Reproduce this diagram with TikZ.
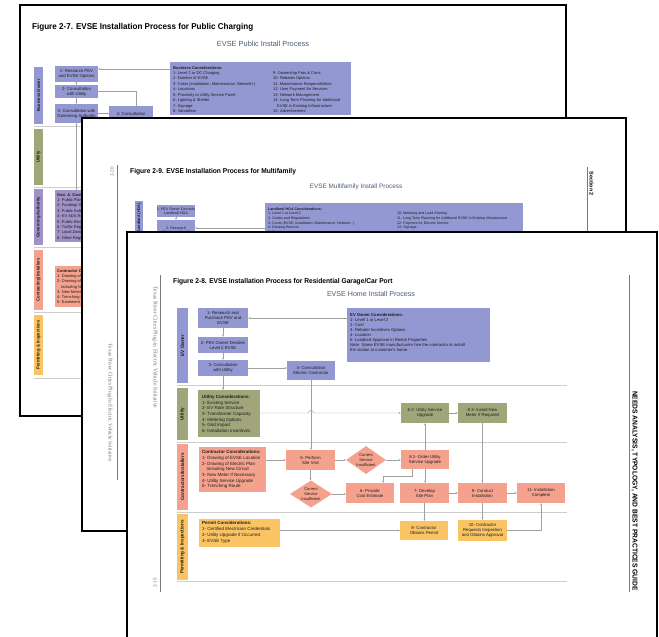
\documentclass[tikz,border=0pt]{standalone}
\usepackage{fontspec}
\usetikzlibrary{arrows.meta,shapes.geometric}
\newfontfamily\hd[FakeStretch=0.95]{Liberation Sans}
\newfontfamily\rg{Liberation Sans}
\newfontfamily\serf{Liberation Serif}
\newcommand\fs[2]{\fontsize{#1}{#2}\selectfont}
\definecolor{lav}{RGB}{147,152,210}
\definecolor{olive}{RGB}{160,166,122}
\definecolor{salm}{RGB}{244,162,142}
\definecolor{orng}{RGB}{250,196,100}
\definecolor{purp}{RGB}{160,145,198}
\definecolor{txt}{RGB}{28,28,28}
\definecolor{sub}{RGB}{75,90,120}
\definecolor{marg}{RGB}{120,120,120}
\definecolor{arrc}{RGB}{160,160,160}
\definecolor{sepc}{RGB}{205,205,205}
\begin{document}
\begin{tikzpicture}[x=1pt,y=-1pt,
  arr/.style={draw=arrc, line width=0.45pt, -{Stealth[length=2.2pt,width=2pt]}},
  ln/.style={draw=arrc, line width=0.45pt},
  sep/.style={draw=sepc, line width=0.6pt},
  pg/.style={fill=white, draw=black, line width=1.6pt},
  mline/.style={draw=marg, line width=0.4pt},
  bx/.style={inner sep=0pt, align=center, text=txt, font=\rg\fs{4.3}{5}},
  bxs/.style={inner sep=0pt, align=center, text=txt, font=\rg\fs{3.6}{4.3}},
  ct/.style={inner sep=0pt, align=left, text=txt, anchor=north west},
  cbox/.style={inner sep=0pt, anchor=north west},
  strip/.style={inner sep=0pt, text=txt, font=\hd\bfseries\fs{4.8}{6}},
  strip1/.style={inner sep=0pt, text=txt, font=\hd\bfseries\fs{4.4}{5.5}},
]
\useasboundingbox (0,0) rectangle (659,637);
\clip (0,0) rectangle (659,637);
\fill[white] (0,0) rectangle (659,637);

%% ================= PAGE 1 =================
\draw[pg] (20,5) rectangle (566,416);
\node[anchor=west, inner sep=0, font=\hd\bfseries\fs{8.5}{9}, text=black] (t1) at (32,27) {Figure 2-7. EVSE Installation Process for Public Charging};
\node[inner sep=0, font=\rg\fs{7.4}{8}, text=sub] (st1) at (263,43.5) {EVSE Public Install Process};
\draw[sep] (34,126.5) -- (560,126.5);
\draw[sep] (34,187) -- (560,187);
\draw[sep] (34,247.5) -- (560,247.5);
\draw[sep] (34,312.5) -- (560,312.5);
\draw[sep] (34,378) -- (560,378);
\node[strip1, fill=lav, rotate=90, minimum width=57pt, minimum height=9pt] (p1s1) at (38.5,95.5) {Business Owner};
\node[strip1, fill=olive, rotate=90, minimum width=56pt, minimum height=9pt] (p1s2) at (38.5,157) {Utility};
\node[strip1, fill=purp, rotate=90, minimum width=56pt, minimum height=9pt] (p1s3) at (38.5,217) {Governing Authority};
\node[strip1, fill=salm, rotate=90, minimum width=60pt, minimum height=9pt] (p1s4) at (38.5,280) {Contracting/Installers};
\node[strip1, fill=orng, rotate=90, minimum width=60pt, minimum height=9pt] (p1s5) at (38.5,345) {Permitting \& Inspections};

\node[bx, fill=lav, minimum width=43pt, minimum height=16pt] (p1b1) at (76.5,73.5) {1- Research PEV\\and EVSE Options};
\node[bx, fill=lav, minimum width=43pt, minimum height=13pt] (p1b2) at (76.5,91.5) {2- Consultation\\with Utility};
\node[bx, fill=lav, minimum width=43pt, minimum height=19pt] (p1b3) at (76.5,113.5) {3- Consultation with\\Governing Authority};
\node[bx, fill=lav, minimum width=44pt, minimum height=20pt] (p1b4) at (131,116) {4- Consultation\\Electric Contractor};
\node[cbox, fill=lav, minimum width=181pt, minimum height=53pt] (p1c) at (170,62) {};
\node[ct, font=\rg\fs{4}{5.45}] (p1ct) at (173,66) {\textbf{Business Considerations:}\\1- Level 2 or DC Charging\\2- Number of EVSE\\3- Costs (Installation, Maintenance, Network+)\\4- Locations\\5- Proximity to Utility Service Panel\\6- Lighting \& Shelter\\7- Signage\\8- Vandalism};
\node[ct, font=\rg\fs{4}{5.45}] (p1ct2) at (273,71.45) {9- Ownership Pros \& Cons\\10- Rebates Options\\11- Maintenance Responsibilities\\12- User Payment for Services\\13- Network Management\\14- Long Term Planning for Additional\\\quad EVSE in Existing Infrastructure\\15- Advertisement};
\coordinate (y69) at (0,69);
\draw[arr] (p1c.west |- y69) -- (p1b1.east |- y69);
\draw[arr] (p1b1.south) -- (p1b2.north);
\draw[arr] (p1b2.south) -- (p1b3.north);
\draw[arr] (p1b3.east) -- (p1b3.east -| p1b4.west);
\draw[ln] (p1b2.east) -| ([xshift=5pt]p1b4.north);

\node[cbox, fill=purp, minimum width=50pt, minimum height=52pt] (p1g) at (55,190) {};
\node[ct, font=\rg\fs{4}{5.4}] (p1gt) at (57,193) {\textbf{Gov. A. Considerations:}\\1- Public Planning\\2- Funding/ Grants\\3- Public Safety\\4- KV ADA Requirements\\5- Public Electric Code\\6- Traffic Regulations\\7- Local Zoning\\8- Other Regulations};
\draw[arr] (p1b3.south |- p1g.north) -- (p1b3.south);
\node[cbox, fill=salm, minimum width=55pt, minimum height=41pt] (p1k) at (55,266) {};
\node[ct, font=\rg\fs{4}{5.3}] (p1kt) at (57,269) {\textbf{Contractor Considerations:}\\1- Drawing of EVSE Location\\2- Drawing of Electric Plan\\\quad including New Circuit\\3- New Meter If Necessary\\4- Trenching Route\\5- Easement};

%% ================= PAGE 2 =================
\draw[pg] (82,118) rectangle (626,531);
\draw[mline] (117,165) -- (117,480);
\node[rotate=90, inner sep=0, font=\serf\fs{5}{6}, text=marg] (pn2) at (112,172) {2-20};
\node[rotate=-90, inner sep=0, font=\serf\fs{5.6}{6}, text=marg] (rt2) at (110,403) {Texas River Cities Plug-In Electric Vehicle Initiative};
\node[anchor=west, inner sep=0, font=\hd\bfseries\fs{7}{8}, text=black] (t2) at (130,172) {Figure 2-9. EVSE Installation Process for Multifamily};
\node[inner sep=0, font=\rg\fs{6.4}{7}, text=sub] (st2) at (356,186.5) {EVSE Multifamily Install Process};
\fill[lav] (135,201) rectangle (143,245);
\node[strip1, rotate=90, anchor=east, font=\hd\bfseries\fs{4}{5}] (p2s1) at (139,203) {Landlord (HOA)};
\node[bxs, fill=lav, minimum width=38pt, minimum height=12pt] (p2b1) at (176,211) {1- PEV Owner Contacts\\Landlord/ HOA};
\node[bxs, fill=lav, minimum width=38pt, minimum height=20pt] (p2b2) at (176,230) {2- Research\\Business Model};
\draw[arr] (p2b1.south) -- (p2b2.north);
\node[cbox, fill=lav, minimum width=258pt, minimum height=40pt] (p2c) at (265,203) {};
\node[ct, font=\rg\fs{3.6}{4.6}] (p2ct) at (268,207.5) {\textbf{Landlord/ HOA Considerations:}\\1- Level 1 or Level 2\\2- Codes and Regulations\\3- Costs (EVSE, Installation, Maintenance, Network...)\\4- Existing Returns\\5- Parking};
\node[ct, font=\rg\fs{3.6}{4.6}] (p2ct2) at (397,212.1) {10- Metering and Load Sharing\\11- Long Term Planning for Additional EVSE in Existing Infrastructure\\12- Payment for Electric Service\\13- Signage\\14- Vandalism};
\coordinate (y228) at (0,228);
\draw[arr] (p2c.west |- y228) -- (p2b2.east |- y228);
\draw[mline] (587,167) -- (587,232);
\node[rotate=-90, inner sep=0, font=\rg\bfseries\fs{5.4}{6}, text=black] (sec2) at (591.5,184) {Section 2};

%% ================= PAGE 3 =================
\draw[pg] (127,232) rectangle (657,660);
\draw[mline] (160,275) -- (160,592);
\node[rotate=-90, inner sep=0, font=\serf\fs{5.8}{6}, text=marg] (rt3) at (155,347.5) {Texas River Cities Plug-in Electric Vehicle Initiative};
\node[rotate=90, inner sep=0, font=\serf\fs{5}{6}, text=marg] (pn3) at (155,583) {2-19};
\draw[mline] (629,275) -- (629,592);
\node[rotate=-90, inner sep=0, font=\hd\bfseries\fs{7.05}{8}, text=black] (guide) at (634.5,491) {NEEDS ANALYSIS, TYPOLOGY, AND BEST PRACTICES GUIDE};
\node[anchor=west, inner sep=0, font=\hd\bfseries\fs{7}{8}, text=black] (t3) at (173,282) {Figure 2-8. EVSE Installation Process for Residential Garage/Car Port};
\node[inner sep=0, font=\rg\fs{7.1}{8}, text=sub] (st3) at (371,293.5) {EVSE Home Install Process};

\draw[sep] (177,385.5) -- (567,385.5);
\draw[sep] (177,442) -- (567,442);
\draw[sep] (177,512) -- (567,512);
\draw[sep] (177,581) -- (567,581);
\node[strip, fill=lav, rotate=90, minimum width=75pt, minimum height=11pt] (s1) at (182.5,345.5) {EV Owner};
\node[strip, fill=olive, rotate=90, minimum width=52pt, minimum height=11pt] (s2) at (182.5,414) {Utility};
\node[strip, fill=salm, rotate=90, minimum width=66pt, minimum height=11pt] (s3) at (182.5,477) {Contractors/Installers};
\node[strip, fill=orng, rotate=90, minimum width=66pt, minimum height=11pt] (s4) at (182.5,547) {Permitting \& Inspections};

% EV owner lane
\node[bx, fill=lav, minimum width=50pt, minimum height=20pt] (b1) at (223,318) {1- Research and\\Purchase PEV and\\EVSE};
\node[bx, fill=lav, minimum width=50pt, minimum height=16pt] (b2) at (223,345) {2- PEV Owner Decides\\Level 2 EVSE};
\node[bx, fill=lav, minimum width=50pt, minimum height=16pt] (b3) at (223,368) {3- Consultation\\with Utility};
\node[bx, fill=lav, minimum width=48pt, minimum height=19pt] (b4) at (311,370.5) {4- Consultation\\Electric Contractor};
\node[cbox, fill=lav, minimum width=143pt, minimum height=54pt] (evc) at (347,308) {};
\node[ct, font=\rg\fs{4.2}{5}] (evct) at (350,313) {\textbf{EV Owner Considerations:}\\1- Level 1 or Level 2\\2- Cost\\3- Rebate/ Incentives Options\\4- Location\\5- Landlord Approval in Rental Properties\\Note: Some EVSE manufacturers hire the contractor to install\\the station at customer's home.};

% Utility lane
\node[cbox, fill=olive, minimum width=62pt, minimum height=47pt] (uc) at (198,390) {};
\node[ct, font=\rg\fs{4.5}{5.65}] (uct) at (202,395) {\textbf{Utility Considerations:}\\1- Existing Service\\2- EV Rate Structure\\3- Transformer Capacity\\4- Metering Options\\5- Grid Impact\\6- Installation Incentives};
\node[bx, fill=olive, minimum width=48pt, minimum height=20pt] (b82) at (425,413) {8.2- Utility Service\\Upgrade};
\node[bx, fill=olive, minimum width=49pt, minimum height=20pt] (b83) at (482.5,413) {8.3- Install New\\Meter If Required};

% Contractor lane
\node[cbox, fill=salm, minimum width=67pt, minimum height=45pt] (cc) at (199,447) {};
\node[ct, font=\rg\fs{4.5}{5.65}] (cct) at (202,450.5) {\textbf{Contractor Considerations:}\\1- Drawing of EVSE Location\\2- Drawing of Electric Plan\\\quad Including New Circuit\\3- New Meter If Necessary\\4- Utility Service Upgrade\\5- Trenching Route};
\node[bx, fill=salm, minimum width=49pt, minimum height=20pt] (b5) at (310.5,460) {5- Perform\\Site Visit};
\node[diamond, fill=salm, inner sep=0pt, minimum width=40pt, minimum height=28pt] (d1) at (366,460) {};
\node[bx, font=\rg\fs{4}{4.8}] (d1t) at (d1.center) {Current\\Service\\Insufficient};
\node[bx, fill=salm, minimum width=48pt, minimum height=19pt] (b81) at (425,459.5) {8.1- Order Utility\\Service Upgrade};
\node[diamond, fill=salm, inner sep=0pt, minimum width=42pt, minimum height=27pt] (d2) at (311,494) {};
\node[bx, font=\rg\fs{4}{4.8}] (d2t) at (d2.center) {Current\\Service\\Insufficient};
\node[bx, fill=salm, minimum width=48pt, minimum height=20pt] (b6) at (370,493) {6- Provide\\Cost Estimate};
\node[bx, fill=salm, minimum width=49pt, minimum height=20pt] (b7) at (424.5,493) {7- Develop\\Site Plan};
\node[bx, fill=salm, minimum width=49pt, minimum height=20pt] (b9) at (482.5,493) {9- Conduct\\Installation};
\node[bx, fill=salm, minimum width=48pt, minimum height=20pt] (b11) at (541,493) {11- Installation\\Complete};

% Permitting lane
\node[cbox, fill=orng, minimum width=81pt, minimum height=28pt] (pc) at (199,519) {};
\node[ct, font=\rg\fs{4.5}{5.7}] (pct) at (202,521.5) {\textbf{Permit Considerations:}\\1- Certified Electrician Credentials\\2- Utility Upgrade if Occurred\\3- EVSE Type};
\node[bx, fill=orng, minimum width=48pt, minimum height=19pt] (b8) at (424,530.5) {8- Contractor\\Obtains Permit};
\node[bx, fill=orng, minimum width=49pt, minimum height=21pt] (b10) at (482.5,530.5) {10- Contractor\\Requests Inspection\\and Obtains Approval};

% connectors page 3
\draw[arr] (evc.west |- b1.east) -- (b1.east);
\draw[arr] (b1.south) -- (b2.north);
\draw[arr] (b2.south) -- (b3.north);
\draw[arr] (b3.east) -- (b3.east -| b4.west);
\draw[arr] (b3.south) -- (b3.south |- uc.north);
\draw[arr] (uc.east |- b82.west) -- (308.5,413) .. controls (308.5,409.5) and (313.5,409.5) .. (313.5,413) -- (b82.west);
\draw[arr] (b82.east) -- (b83.west);
\draw[arr] (b4.south) -- (b4.south |- b5.north);
\draw[arr] (cc.east |- b5.west) -- (b5.west);
\draw[arr] (b5.east) -- (d1.west);
\draw[arr] (d1.east) -- (d1.east -| b81.west);
\draw[arr] (b81.north) -- (b82.south);
\draw[arr] (b81.south) -- (b81.south |- b7.north);
\draw[arr] ([xshift=-13pt]b81.south) -- ++(0,7) -| ([xshift=13pt]b6.north);
\draw[arr] (b5.south) -- (b5.south |- d2.north);
\draw[arr] (d2.east) -- (d2.east -| b6.west);
\draw[arr] (b7.east) -- (b9.west);
\draw[arr] (b9.east) -- (b11.west);
\draw[arr] (b83.south) -- (b9.north);
\draw[arr] (b7.south) -- (b7.south |- b8.north);
\draw[arr] (b9.south) -- (b10.north);
\draw[arr] (b10.east) -| (b11.south);
\draw[arr] (pc.east |- b8.west) -- (b8.west);
\end{tikzpicture}
\end{document}
